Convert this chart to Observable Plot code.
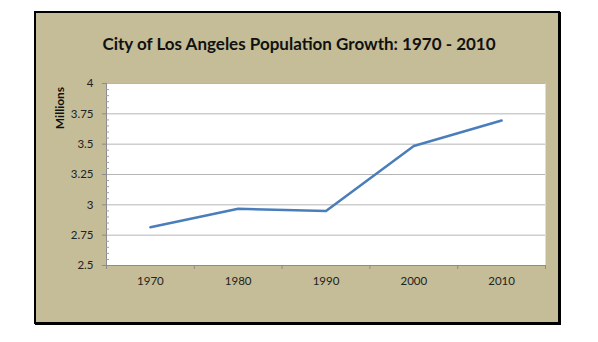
<!DOCTYPE html>
<html>
<head>
<meta charset="utf-8">
<script src="https://cdn.jsdelivr.net/npm/d3@7"></script>
<script src="https://cdn.jsdelivr.net/npm/@observablehq/plot@0.6"></script>
<style>
  html, body { margin: 0; padding: 0; background: #fff; }
  #wrap { position: relative; width: 598px; height: 342px; overflow: hidden; font-family: Lato, "Open Sans", sans-serif; }
  #panel { position: absolute; left: 34px; top: 11px; width: 522px; height: 309px; background: #c4bd97; border: 2.5px solid #000; box-shadow: 1px 1px 0 #000; }
  #title { position: absolute; left: 0; width: 598px; top: 33px; text-align: center; font-size: 17px; font-weight: bold; color: #111; }
  #ylab { position: absolute; left: 59px; top: 108px; transform: translate(-50%, -50%) rotate(-90deg); font-size: 12px; font-weight: bold; color: #111; white-space: nowrap; }
  #chart { position: absolute; left: 0; top: 0; }
</style>
</head>
<body>
<div id="wrap">
  <div id="panel"></div>
  <div id="title">City of Los Angeles Population Growth: 1970 - 2010</div>
  <div id="ylab">Millions</div>
  <div id="chart"></div>
</div>
<script>
const years = [1970, 1980, 1990, 2000, 2010];
const population = [2.816, 2.967, 2.95, 3.485, 3.695];
const yTicks = [2.5, 2.75, 3, 3.25, 3.5, 3.75, 4];
const yTickLabels = ["2.5", "2.75", "3", "3.25", "3.5", "3.75", "4"];
const yMinorTicks = d3.range(2.55, 4.0, 0.05).map(v => +v.toFixed(2)).filter(v => !yTicks.includes(v));
const xBoundaries = [1965, 1975, 1985, 1995, 2005, 2015];

const data = years.map((y, i) => ({year: y, value: population[i]}));

const chart = Plot.plot({
  width: 598,
  height: 342,
  marginLeft: 106,
  marginRight: 53,
  marginTop: 83,
  marginBottom: 77,
  style: {background: "transparent", fontFamily: "Lato, 'Open Sans', sans-serif", fontSize: "11.5px", color: "#222"},
  x: {domain: [1965, 2015]},
  y: {domain: [2.5, 4]},
  marks: [
    Plot.frame({fill: "white", stroke: null}),
    Plot.gridY(yTicks.slice(1), {stroke: "#b5b5b5", strokeOpacity: 1, strokeWidth: 1}),
    Plot.ruleX([1965], {stroke: "#8c8c8c"}),
    Plot.ruleY([2.5], {stroke: "#8c8c8c"}),
    Plot.axisY(yTicks, {tickSize: 4, tickPadding: 9, stroke: "#8c8c8c", fill: "#222", tickFormat: (d) => yTickLabels[yTicks.indexOf(d)], label: null}),
    Plot.axisY(yMinorTicks, {tickSize: -3, tickFormat: () => "", stroke: "#a0a0a0", label: null}),
    Plot.axisX(xBoundaries, {tickSize: 4, tickFormat: () => "", stroke: "#8c8c8c", label: null}),
    Plot.axisX(years, {tickSize: 0, tickPadding: 11, tickFormat: d => String(d), fill: "#222", label: null}),
    Plot.line(data, {x: "year", y: "value", stroke: "#4a7ebb", strokeWidth: 2.5})
  ]
});
document.getElementById("chart").appendChild(chart);
</script>
</body>
</html>
